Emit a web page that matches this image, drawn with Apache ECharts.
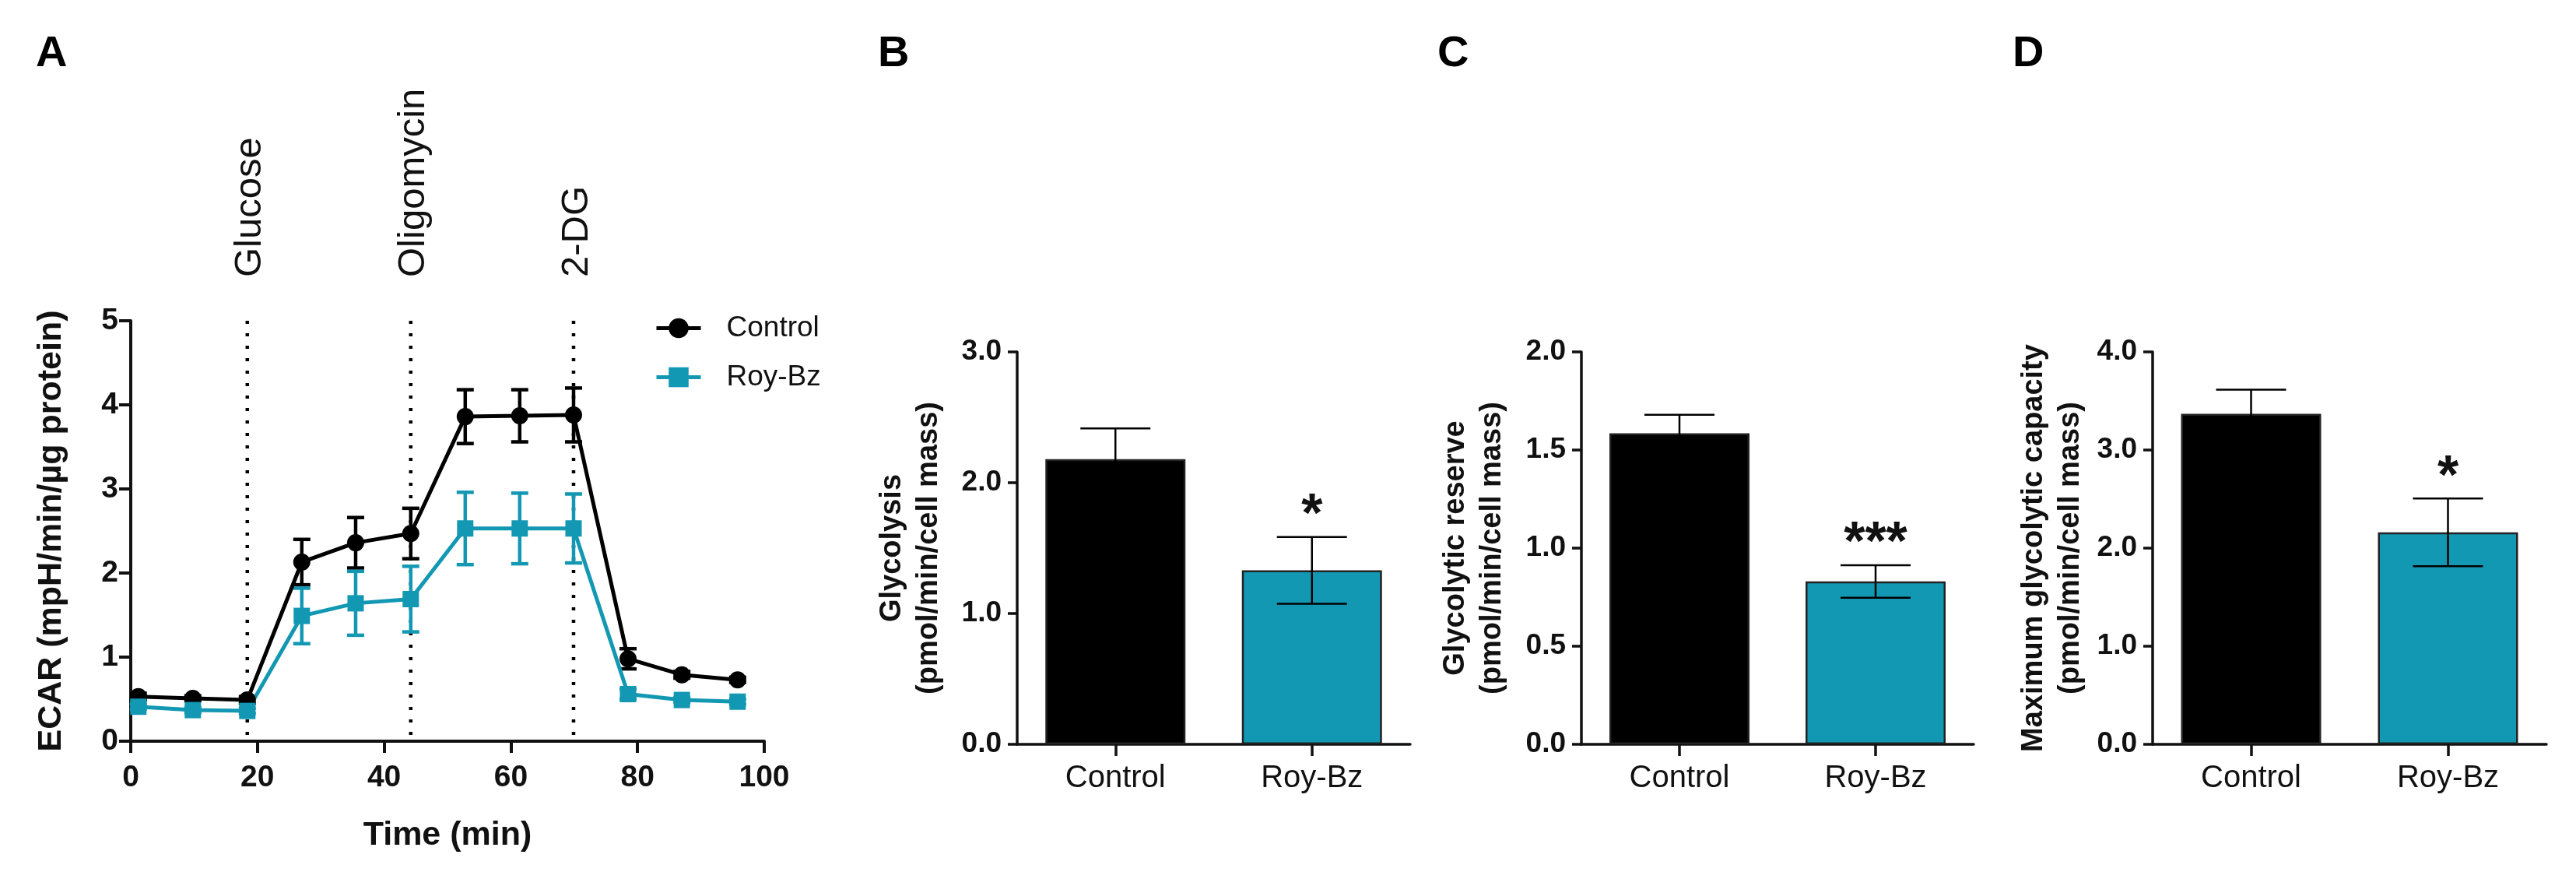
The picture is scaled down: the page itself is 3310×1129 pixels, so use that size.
<!DOCTYPE html>
<html><head><meta charset="utf-8">
<script src="https://cdn.jsdelivr.net/npm/echarts@6/dist/echarts.min.js"></script>
<style>html,body{margin:0;padding:0;background:#fff}#c{width:3310px;height:1129px}</style>
</head><body><div id="c"></div>
<script>
// ---- data ----
const times = [1.2, 9.8, 18.4, 27.0, 35.5, 44.2, 52.8, 61.4, 69.9, 78.5, 87.0, 95.8];
const controlECAR = [0.53, 0.51, 0.49, 2.13, 2.36, 2.47, 3.86, 3.87, 3.88, 0.98, 0.79, 0.73];
const controlSEM  = [0.04, 0.03, 0.04, 0.27, 0.30, 0.30, 0.32, 0.31, 0.32, 0.12, 0.04, 0.03];
const royECAR = [0.41, 0.37, 0.36, 1.49, 1.64, 1.69, 2.53, 2.53, 2.53, 0.56, 0.49, 0.47];
const roySEM  = [0.03, 0.03, 0.03, 0.33, 0.38, 0.39, 0.43, 0.42, 0.41, 0.06, 0.03, 0.03];
const injectionTimes = [18.4, 44.2, 69.9];
const injectionNames = ['Glucose', 'Oligomycin', '2-DG'];
const groups = ['Control', 'Roy-Bz'];
const glycolysis = [2.18, 1.33];
const glycolysisSEM = [0.235, 0.255];
const reserve = [1.585, 0.83];
const reserveSEM = [0.095, 0.083];
const capacity = [3.37, 2.16];
const capacitySEM = [0.245, 0.345];
const glycolysisStars = ['', '*'];
const reserveStars = ['', '***'];
const capacityStars = ['', '*'];
const panelLetters = ['A', 'B', 'C', 'D'];

// ---- styles ----
const FF = "'Liberation Sans', Arial, sans-serif";
const TEAL = '#1398b3';
const INK = '#111';
const AXW = 3.5;

const chart = echarts.init(document.getElementById('c'), null, {renderer: 'canvas'});

function barYAxis(idx, max, interval, name, gap) {
  return {
    gridIndex: idx, type: 'value', min: 0, max: max, interval: interval,
    name: name, nameLocation: 'middle', nameRotate: 90, nameGap: gap,
    nameTextStyle: {fontFamily: FF, fontSize: 38, fontWeight: 'bold', color: INK, lineHeight: 47},
    axisLine: {show: true, lineStyle: {color: INK, width: AXW}},
    axisTick: {show: true, length: 12, lineStyle: {color: INK, width: AXW}},
    splitLine: {show: false},
    axisLabel: {fontFamily: FF, fontSize: 37, fontWeight: 'bold', color: INK, margin: 20,
      formatter: v => v.toFixed(1)}
  };
}
function barXAxis(idx) {
  return {
    gridIndex: idx, type: 'category', data: groups, boundaryGap: true,
    axisLine: {show: true, lineStyle: {color: INK, width: AXW}},
    axisTick: {show: true, alignWithLabel: true, length: 15, lineStyle: {color: INK, width: AXW}},
    axisLabel: {fontFamily: FF, fontSize: 40, color: INK, margin: 24},
    splitLine: {show: false}
  };
}
function barSeries(idx, vals) {
  return {
    type: 'bar', name: 'bars' + idx, xAxisIndex: idx, yAxisIndex: idx, barWidth: 180,
    data: vals.map((v, i) => ({value: v, itemStyle: {color: i === 0 ? '#000' : TEAL}})),
    itemStyle: {borderColor: '#222', borderWidth: 2.5}, z: 2
  };
}
function barErrSeries(idx, vals, sems, stars) {
  return {
    type: 'custom', name: 'err' + idx, xAxisIndex: idx, yAxisIndex: idx, z: 3,
    data: vals.map((v, i) => [i, v, sems[i]]),
    encode: {x: 0, y: 1},
    renderItem: function (params, api) {
      const c = api.value(0), v = api.value(1), e = api.value(2);
      const top = api.coord([c, v + e]);
      const bot = api.coord([c, v - e]);
      const hw = 45;
      const st = {stroke: '#000', lineWidth: 2.5};
      const children = [
        {type: 'line', shape: {x1: top[0], y1: top[1], x2: bot[0], y2: bot[1]}, style: st},
        {type: 'line', shape: {x1: top[0] - hw, y1: top[1], x2: top[0] + hw, y2: top[1]}, style: st},
        {type: 'line', shape: {x1: bot[0] - hw, y1: bot[1], x2: bot[0] + hw, y2: bot[1]}, style: st}
      ];
      const s = stars[params.dataIndex];
      if (s) {
        children.push({type: 'text', x: top[0], y: top[1] - 26,
          style: {text: s, fontFamily: FF, fontSize: 70, fontWeight: 'bold', fill: INK,
            align: 'center', verticalAlign: 'middle'}});
      }
      return {type: 'group', children: children};
    }
  };
}
function lineErrSeries(vals, sems, color) {
  return {
    type: 'custom', name: 'sem', xAxisIndex: 0, yAxisIndex: 0, z: 1,
    data: times.map((t, i) => [t, vals[i], sems[i]]),
    encode: {x: 0, y: 1},
    renderItem: function (params, api) {
      const x = api.value(0), v = api.value(1), e = api.value(2);
      const top = api.coord([x, v + e]);
      const bot = api.coord([x, v - e]);
      const hw = 11;
      const st = {stroke: color, lineWidth: 4.5};
      return {type: 'group', children: [
        {type: 'line', shape: {x1: top[0], y1: top[1], x2: bot[0], y2: bot[1]}, style: st},
        {type: 'line', shape: {x1: top[0] - hw, y1: top[1], x2: top[0] + hw, y2: top[1]}, style: st},
        {type: 'line', shape: {x1: bot[0] - hw, y1: bot[1], x2: bot[0] + hw, y2: bot[1]}, style: st}
      ]};
    }
  };
}

const option = {
  backgroundColor: '#fff',
  animation: false,
  title: panelLetters.map((t, i) => ({
    text: t, left: [46, 1128, 1847, 2586][i], top: 42, padding: 0,
    textStyle: {fontFamily: FF, fontSize: 56, fontWeight: 'bold', color: '#000'}
  })),
  legend: {
    data: ['Control', 'Roy-Bz'], orient: 'vertical', left: 836, top: 398,
    itemWidth: 57, itemHeight: 32, itemGap: 26, selectedMode: false,
    lineStyle: {width: 5},
    textStyle: {fontFamily: FF, fontSize: 37, color: INK, padding: [0, 0, 0, 28]}
  },
  grid: [
    {left: 168, top: 412, width: 814, height: 540},
    {left: 1307, top: 452, width: 505, height: 504},
    {left: 2032, top: 452, width: 504, height: 504},
    {left: 2766, top: 452, width: 506, height: 504}
  ],
  xAxis: [
    {gridIndex: 0, type: 'value', min: 0, max: 100, interval: 20,
      name: 'Time (min)', nameLocation: 'middle', nameGap: 100,
      nameTextStyle: {fontFamily: FF, fontSize: 43, fontWeight: 'bold', color: INK},
      axisLine: {show: true, lineStyle: {color: INK, width: 4}},
      axisTick: {show: true, length: 15, lineStyle: {color: INK, width: 4}},
      axisLabel: {fontFamily: FF, fontSize: 39, fontWeight: 'bold', color: INK, margin: 28},
      splitLine: {show: false}},
    barXAxis(1), barXAxis(2), barXAxis(3)
  ],
  yAxis: [
    {gridIndex: 0, type: 'value', min: 0, max: 5, interval: 1,
      name: 'ECAR (mpH/min/µg protein)', nameLocation: 'middle', nameRotate: 90, nameGap: 80,
      nameTextStyle: {fontFamily: FF, fontSize: 43, fontWeight: 'bold', color: INK},
      axisLine: {show: true, lineStyle: {color: INK, width: 4}},
      axisTick: {show: true, length: 15, lineStyle: {color: INK, width: 4}},
      axisLabel: {fontFamily: FF, fontSize: 39, fontWeight: 'bold', color: INK, margin: 16},
      splitLine: {show: false}},
    barYAxis(1, 3, 1, 'Glycolysis\n(pmol/min/cell mass)', 90),
    barYAxis(2, 2, 0.5, 'Glycolytic reserve\n(pmol/min/cell mass)', 91),
    barYAxis(3, 4, 1, 'Maximum glycolytic capacity\n(pmol/min/cell mass)', 82)
  ],
  series: [
    {
      type: 'custom', name: 'injections', xAxisIndex: 0, yAxisIndex: 0, z: 0,
      data: injectionTimes.map(t => [t, 5]), encode: {x: 0, y: 1},
      renderItem: function (params, api) {
        const x = api.value(0);
        const top = api.coord([x, api.value(1)]);
        const bot = api.coord([x, 0]);
        return {type: 'group', children: [
          {type: 'line', shape: {x1: top[0], y1: top[1], x2: bot[0], y2: bot[1]},
            style: {stroke: '#000', lineWidth: 4.5, lineDash: [4, 12]}},
          {type: 'text', x: top[0] + 4, y: top[1] - 56, rotation: Math.PI / 2,
            style: {text: injectionNames[params.dataIndex], fontFamily: FF, fontSize: 49,
              fill: INK, align: 'left', verticalAlign: 'middle'}}
        ]};
      }
    },
    lineErrSeries(controlECAR, controlSEM, '#000'),
    lineErrSeries(royECAR, roySEM, TEAL),
    {type: 'line', name: 'Control', xAxisIndex: 0, yAxisIndex: 0, z: 2,
      data: times.map((t, i) => [t, controlECAR[i]]),
      symbol: 'circle', symbolSize: 22, color: '#000',
      lineStyle: {color: '#000', width: 5}, itemStyle: {color: '#000'}},
    {type: 'line', name: 'Roy-Bz', xAxisIndex: 0, yAxisIndex: 0, z: 2,
      data: times.map((t, i) => [t, royECAR[i]]),
      symbol: 'rect', symbolSize: 21, color: TEAL,
      lineStyle: {color: TEAL, width: 5}, itemStyle: {color: TEAL}},
    barSeries(1, glycolysis), barErrSeries(1, glycolysis, glycolysisSEM, glycolysisStars),
    barSeries(2, reserve), barErrSeries(2, reserve, reserveSEM, reserveStars),
    barSeries(3, capacity), barErrSeries(3, capacity, capacitySEM, capacityStars)
  ]
};
chart.setOption(option);
</script>
</body></html>
